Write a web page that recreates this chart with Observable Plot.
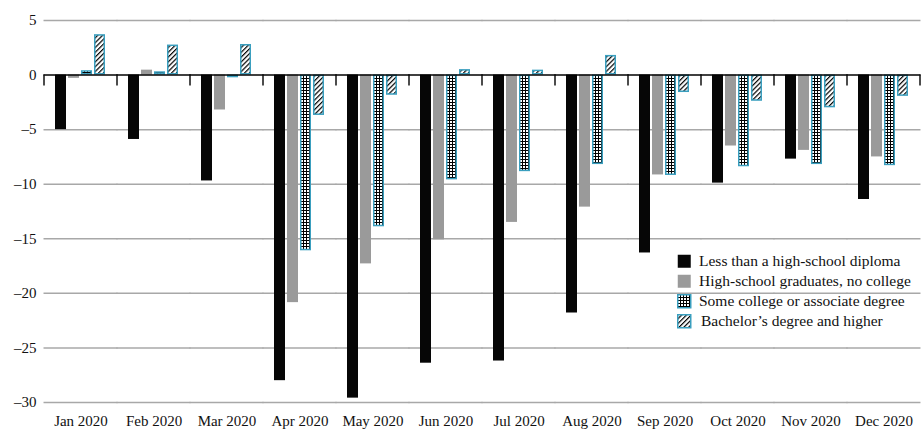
<!DOCTYPE html>
<html>
<head>
<meta charset="utf-8">
<script src="https://cdn.jsdelivr.net/npm/d3@7"></script>
<script src="https://cdn.jsdelivr.net/npm/@observablehq/plot@0.6"></script>
<style>
  html, body { margin: 0; padding: 0; background: #fff; }
  #chart { width: 922px; height: 429px; }
</style>
</head>
<body>
<div id="chart"></div>
<script>
// ---- data ----
const months = ["Jan 2020", "Feb 2020", "Mar 2020", "Apr 2020", "May 2020", "Jun 2020",
                "Jul 2020", "Aug 2020", "Sep 2020", "Oct 2020", "Nov 2020", "Dec 2020"];
const series = ["Less than a high-school diploma", "High-school graduates, no college",
                "Some college or associate degree", "Bachelor’s degree and higher"];
const lessThanHS   = [-5.0, -5.9, -9.7, -28.0, -29.6, -26.4, -26.2, -21.8, -16.3, -9.9, -7.7, -11.4];
const hsGraduates  = [-0.3, 0.45, -3.2, -20.85, -17.3, -15.1, -13.5, -12.1, -9.15, -6.5, -6.9, -7.5];
const someCollege  = [0.4, 0.3, -0.25, -16.1, -13.9, -9.6, -8.85, -8.2, -9.2, -8.4, -8.2, -8.3];
const bachelorPlus = [3.7, 2.75, 2.8, -3.7, -1.85, 0.5, 0.45, 1.8, -1.6, -2.4, -3.0, -1.95];
const yTicks = [5, 0, -5, -10, -15, -20, -25, -30];

const valuesBySeries = [lessThanHS, hsGraduates, someCollege, bachelorPlus];
const rows = [];
months.forEach((m, i) => series.forEach((s, j) => rows.push({month: m, series: s, value: valuesBySeries[j][i]})));

const fills = ["#060606", "#9a9a9a", "url(#gridPat)", "url(#hatchPat)"];
const teal = "#3a9fbf";
const fmt = d => d < 0 ? "\u2013" + Math.abs(d) : String(d);

const W = 922, ML = 43, MR = 0;
const padInner = 0.3, padOuter = 0.15;
const halfGap = (W - ML - MR) / months.length * padInner / 2;

const plot = Plot.plot({
  width: W,
  height: 429,
  marginLeft: ML,
  marginRight: MR,
  marginTop: 20,
  marginBottom: 27,
  style: {fontFamily: "'Liberation Serif', 'Times New Roman', serif", fontSize: "15px", color: "#111", background: "#fff"},
  fx: {domain: months, paddingInner: padInner, paddingOuter: padOuter, label: null, tickSize: 0, tickPadding: 13, axis: "bottom"},
  x: {domain: series, paddingInner: 0.15, paddingOuter: 0, axis: null},
  y: {domain: [-30, 5]},
  color: {domain: series, range: fills},
  marks: [
    Plot.ruleY(yTicks.filter(d => d !== 0), {stroke: "#a8a8a8", strokeWidth: 1.5, insetLeft: -halfGap - 0.5, insetRight: -halfGap - 0.5}),
    Plot.axisY(yTicks, {tickSize: 0, tickPadding: halfGap + 8, tickFormat: fmt, label: null, fill: "#111"}),
    Plot.barY(rows.filter(d => d.series === series[0] || d.series === series[1]),
      {fx: "month", x: "series", y: "value", fill: "series"}),
    Plot.barY(rows.filter(d => d.series === series[2] || d.series === series[3]),
      {fx: "month", x: "series", y: "value", fill: "series", stroke: teal, strokeWidth: 1.5, inset: 0.75}),
    Plot.ruleY([0], {stroke: "#000", strokeWidth: 1.5, insetLeft: -halfGap - 0.5, insetRight: -halfGap - 0.5})
  ]
});

const svg = d3.select(plot);
const defs = svg.insert("defs", ":first-child");
const gp = defs.append("pattern").attr("id", "gridPat").attr("patternUnits", "userSpaceOnUse")
  .attr("width", 3).attr("height", 3);
gp.append("rect").attr("width", 3).attr("height", 3).attr("fill", "#fff");
gp.append("path").attr("d", "M0 0.5H3M0.5 0V3").attr("stroke", "#000").attr("stroke-width", 1);
const hp = defs.append("pattern").attr("id", "hatchPat").attr("patternUnits", "userSpaceOnUse")
  .attr("width", 3.4).attr("height", 3.4).attr("patternTransform", "rotate(45)");
hp.append("rect").attr("width", 3.4).attr("height", 3.4).attr("fill", "#fff");
hp.append("line").attr("x1", 0.6).attr("y1", 0).attr("x2", 0.6).attr("y2", 3.4)
  .attr("stroke", "#000").attr("stroke-width", 1.2);

// boundary ticks below zero line, from the library's scales
const fxS = plot.scale("fx");
const yS = plot.scale("y");
const gap = fxS.step - fxS.bandwidth;
const bounds = months.map(m => fxS.apply(m) - gap / 2);
bounds.push(fxS.apply(months[months.length - 1]) + fxS.bandwidth + gap / 2);
const y0 = yS.apply(0);
svg.append("g").selectAll("line").data(bounds).join("line")
  .attr("x1", d => Math.min(d, W - 1)).attr("x2", d => Math.min(d, W - 1))
  .attr("y1", y0).attr("y2", y0 + 11)
  .attr("stroke", "#111").attr("stroke-width", 1.5);

// legend
const lg = svg.append("g").attr("transform", "translate(677,254)")
  .attr("text-anchor", "start").style("font-size", "15.5px");
const item = lg.selectAll("g").data(series).join("g")
  .attr("transform", (d, i) => `translate(0,${i * 20})`);
item.append("rect").attr("x", 0.75).attr("y", 0.75).attr("width", 13).attr("height", 13)
  .attr("fill", (d, i) => fills[i])
  .attr("stroke", (d, i) => i >= 2 ? teal : "none").attr("stroke-width", 1.5);
item.append("text").attr("x", (d, i) => i === 3 ? 24 : 22).attr("y", 7).attr("dy", "0.35em")
  .attr("text-anchor", "start").attr("fill", "#111").text(d => d);

document.getElementById("chart").appendChild(plot);
</script>
</body>
</html>
